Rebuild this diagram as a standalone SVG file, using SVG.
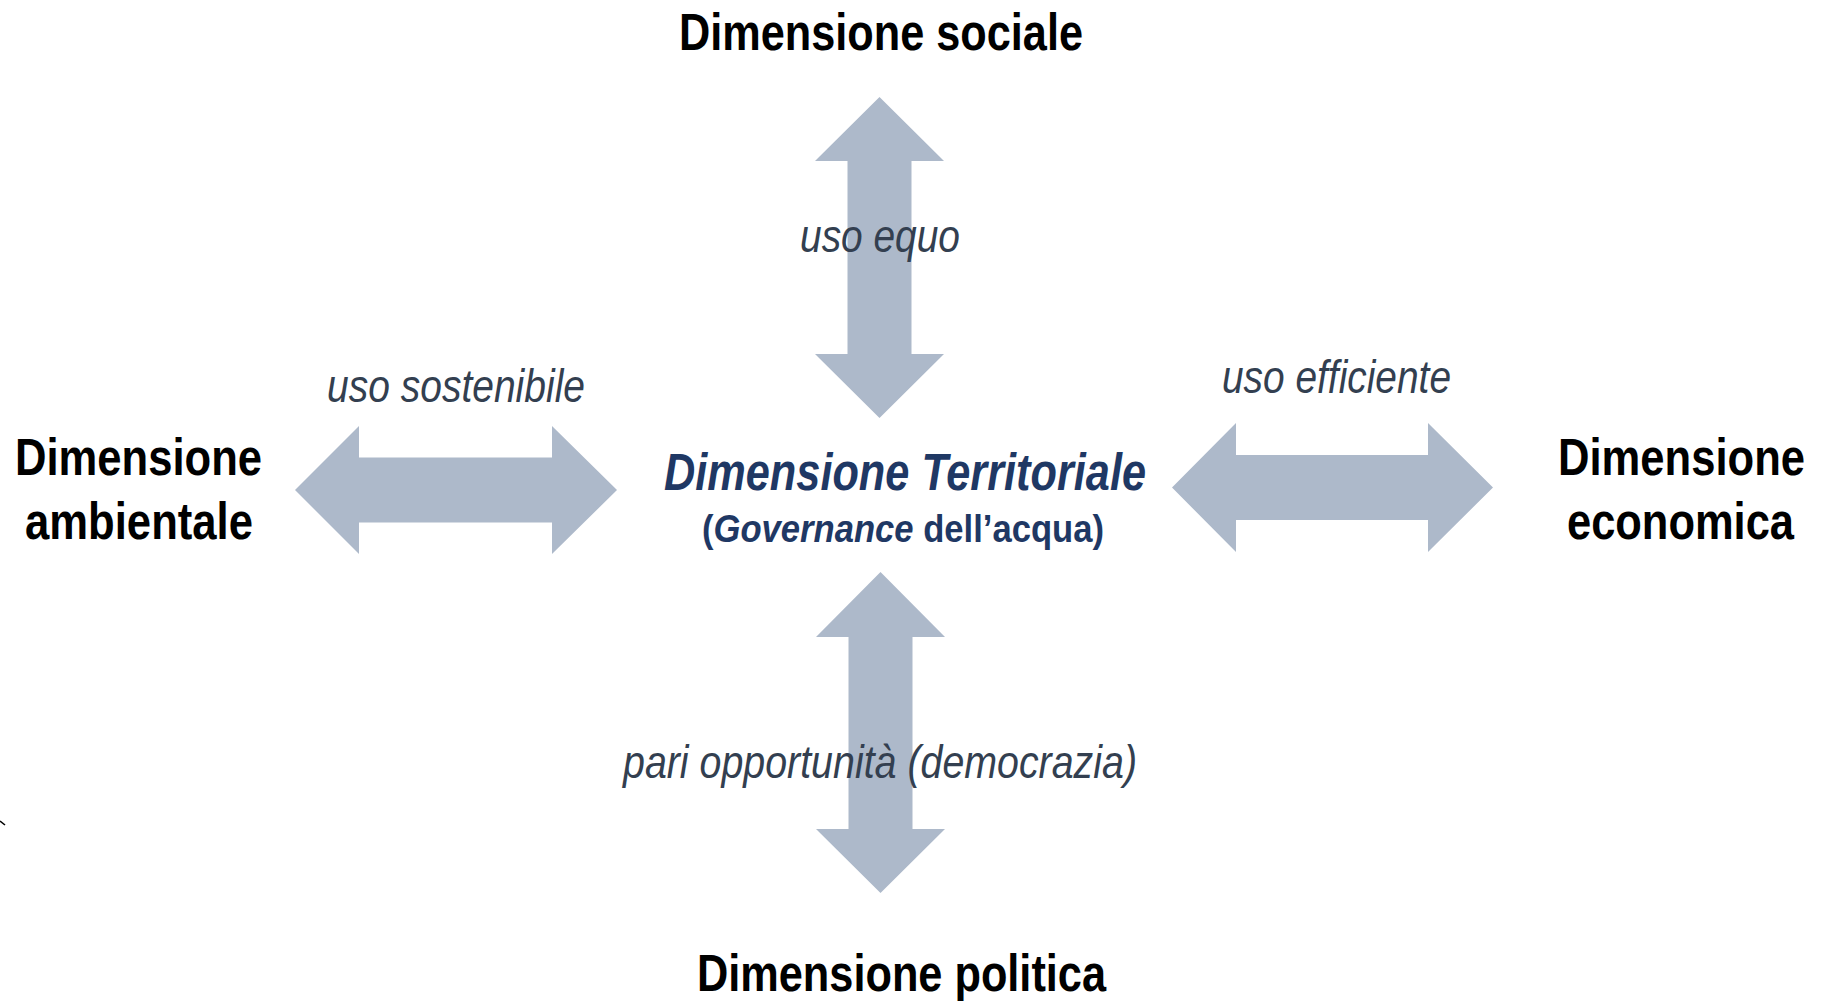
<svg xmlns="http://www.w3.org/2000/svg" width="1825" height="1001" viewBox="0 0 1825 1001">
  <style>
    .dim { font-family: "Liberation Sans Narrow", "Liberation Sans", Arial, sans-serif; font-weight: bold; font-size: 52px; fill: #000000; }
    .rel { font-family: "Liberation Sans Narrow", "Liberation Sans", Arial, sans-serif; font-style: italic; font-size: 46px; fill: #333f50; }
    .core { font-family: "Liberation Sans Narrow", "Liberation Sans", Arial, sans-serif; font-weight: bold; fill: #1f3864; }
    .arrow { fill: #adb9ca; }
  </style>

  <rect x="0" y="0" width="1825" height="1001" fill="#ffffff"/>

  <!-- double-headed block arrows between the centre and each dimension -->
  <g id="connectors">
    <polygon class="arrow" points="879.5,97 944,161 911.5,161 911.5,354 944,354 879.5,418 815,354 847.5,354 847.5,161 815,161"/>
    <polygon class="arrow" points="880.5,572 945,637 912.5,637 912.5,829 945,829 880.5,893 816,829 848.5,829 848.5,637 816,637"/>
    <polygon class="arrow" points="295,490 359,426 359,457.5 552,457.5 552,426 617,490 552,554 552,522.5 359,522.5 359,554"/>
    <polygon class="arrow" points="1172,487.5 1236,423 1236,455 1428,455 1428,423 1493,487.5 1428,552 1428,520 1236,520 1236,552"/>
  </g>

  <!-- relation labels on the arrows -->
  <g id="relation-labels">
    <text class="rel" x="800" y="252" textLength="160" lengthAdjust="spacingAndGlyphs">uso equo</text>
    <text class="rel" x="327" y="402" textLength="258" lengthAdjust="spacingAndGlyphs">uso sostenibile</text>
    <text class="rel" x="1222" y="393" textLength="229" lengthAdjust="spacingAndGlyphs">uso efficiente</text>
    <text class="rel" x="623" y="778" textLength="514" lengthAdjust="spacingAndGlyphs">pari opportunità  (democrazia)</text>
  </g>

  <g id="node-territoriale">
    <text class="core" x="664" y="490" font-size="51" font-style="italic" textLength="482" lengthAdjust="spacingAndGlyphs">Dimensione Territoriale</text>
    <text class="core" x="702" y="542" font-size="39" textLength="402" lengthAdjust="spacingAndGlyphs">(<tspan font-style="italic">Governance</tspan> dell’acqua)</text>
  </g>

  <g id="node-sociale">
    <text class="dim" x="679" y="50" textLength="404" lengthAdjust="spacingAndGlyphs">Dimensione sociale</text>
  </g>

  <g id="node-politica">
    <text class="dim" x="697" y="991" textLength="409" lengthAdjust="spacingAndGlyphs">Dimensione politica</text>
  </g>

  <g id="node-ambientale">
    <text class="dim" x="15" y="475" textLength="247" lengthAdjust="spacingAndGlyphs">Dimensione</text>
    <text class="dim" x="25" y="539" textLength="228" lengthAdjust="spacingAndGlyphs">ambientale</text>
  </g>

  <g id="node-economica">
    <text class="dim" x="1558" y="475" textLength="247" lengthAdjust="spacingAndGlyphs">Dimensione</text>
    <text class="dim" x="1567" y="539" textLength="227" lengthAdjust="spacingAndGlyphs">economica</text>
  </g>

  <!-- small stray stroke at the left edge -->
  <path d="M0,821 L5,825" stroke="#000000" stroke-width="1.6" fill="none"/>
</svg>
